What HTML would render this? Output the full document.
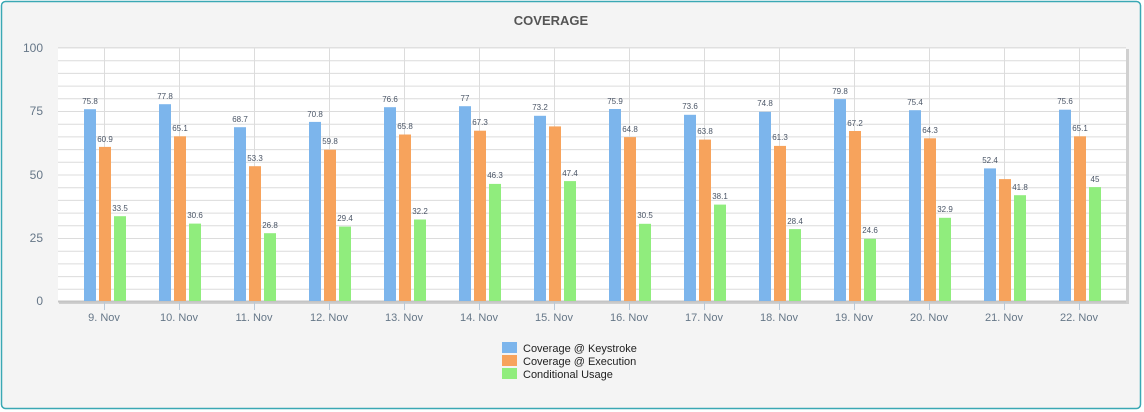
<!DOCTYPE html>
<html><head><meta charset="utf-8"><style>
html,body{margin:0;padding:0;background:#fff;}
svg{display:block;font-family:"Liberation Sans",sans-serif;}
.l{font-size:8px;fill:#4a5566;text-anchor:middle;}
.ax{font-size:12px;fill:#667788;}
.xl{font-size:11px;fill:#667788;text-anchor:middle;}
</style></head><body>
<svg width="1144" height="412" viewBox="0 0 1144 412">
<rect x="1.5" y="1.5" width="1139" height="407" rx="4" fill="#f4f4f4" stroke="#3aa8b4" stroke-width="1.5"/>
<text x="551" y="25" text-anchor="middle" font-size="13" font-weight="bold" fill="#555">COVERAGE</text>
<rect x="59" y="49" width="1070" height="255" fill="#d0d0d0"/>
<rect x="58" y="48" width="1068" height="253" fill="#fff"/>
<g stroke="#dcdcdc" stroke-width="1">
<line x1="58" x2="1126" y1="60.7" y2="60.7"/><line x1="58" x2="1126" y1="73.4" y2="73.4"/><line x1="58" x2="1126" y1="86.1" y2="86.1"/><line x1="58" x2="1126" y1="98.8" y2="98.8"/><line x1="58" x2="1126" y1="111.5" y2="111.5"/><line x1="58" x2="1126" y1="124.2" y2="124.2"/><line x1="58" x2="1126" y1="136.9" y2="136.9"/><line x1="58" x2="1126" y1="149.6" y2="149.6"/><line x1="58" x2="1126" y1="162.3" y2="162.3"/><line x1="58" x2="1126" y1="175" y2="175"/><line x1="58" x2="1126" y1="187.7" y2="187.7"/><line x1="58" x2="1126" y1="200.4" y2="200.4"/><line x1="58" x2="1126" y1="213.1" y2="213.1"/><line x1="58" x2="1126" y1="225.8" y2="225.8"/><line x1="58" x2="1126" y1="238.5" y2="238.5"/><line x1="58" x2="1126" y1="251.2" y2="251.2"/><line x1="58" x2="1126" y1="263.9" y2="263.9"/><line x1="58" x2="1126" y1="276.6" y2="276.6"/><line x1="58" x2="1126" y1="289.3" y2="289.3"/>
<line y1="48" y2="301" x1="104.5" x2="104.5"/><line y1="48" y2="301" x1="179.5" x2="179.5"/><line y1="48" y2="301" x1="254.5" x2="254.5"/><line y1="48" y2="301" x1="329.5" x2="329.5"/><line y1="48" y2="301" x1="404.5" x2="404.5"/><line y1="48" y2="301" x1="479.5" x2="479.5"/><line y1="48" y2="301" x1="554.5" x2="554.5"/><line y1="48" y2="301" x1="629.5" x2="629.5"/><line y1="48" y2="301" x1="704.5" x2="704.5"/><line y1="48" y2="301" x1="779.5" x2="779.5"/><line y1="48" y2="301" x1="854.5" x2="854.5"/><line y1="48" y2="301" x1="929.5" x2="929.5"/><line y1="48" y2="301" x1="1004.5" x2="1004.5"/><line y1="48" y2="301" x1="1079.5" x2="1079.5"/>
</g>
<rect x="58" y="47" width="1068" height="1.5" fill="#e0e0e0"/>
<line x1="58" x2="1126" y1="301.5" y2="301.5" stroke="#c4c4c4" stroke-width="2"/>
<g stroke="#b8c8d8"><line x1="104.5" x2="104.5" y1="302" y2="310"/><line x1="179.5" x2="179.5" y1="302" y2="310"/><line x1="254.5" x2="254.5" y1="302" y2="310"/><line x1="329.5" x2="329.5" y1="302" y2="310"/><line x1="404.5" x2="404.5" y1="302" y2="310"/><line x1="479.5" x2="479.5" y1="302" y2="310"/><line x1="554.5" x2="554.5" y1="302" y2="310"/><line x1="629.5" x2="629.5" y1="302" y2="310"/><line x1="704.5" x2="704.5" y1="302" y2="310"/><line x1="779.5" x2="779.5" y1="302" y2="310"/><line x1="854.5" x2="854.5" y1="302" y2="310"/><line x1="929.5" x2="929.5" y1="302" y2="310"/><line x1="1004.5" x2="1004.5" y1="302" y2="310"/><line x1="1079.5" x2="1079.5" y1="302" y2="310"/></g>
<g class="ax" text-anchor="end">
<text x="43" y="52">100</text><text x="43" y="115">75</text><text x="43" y="179">50</text><text x="43" y="242">25</text><text x="43" y="305">0</text>
</g>
<g class="xl">
<text x="104" y="321">9. Nov</text><text x="179" y="321">10. Nov</text><text x="254" y="321">11. Nov</text><text x="329" y="321">12. Nov</text><text x="404" y="321">13. Nov</text><text x="479" y="321">14. Nov</text><text x="554" y="321">15. Nov</text><text x="629" y="321">16. Nov</text><text x="704" y="321">17. Nov</text><text x="779" y="321">18. Nov</text><text x="854" y="321">19. Nov</text><text x="929" y="321">20. Nov</text><text x="1004" y="321">21. Nov</text><text x="1079" y="321">22. Nov</text>
</g>
<g transform="translate(104,0)"><rect x="-20" y="109.2" width="12" height="191.8" fill="#7cb5ec"/><rect x="-5" y="146.9" width="12" height="154.1" fill="#f7a35c"/><rect x="10" y="216.2" width="12" height="84.8" fill="#90ed7d"/><text class="l" x="-14" y="104">75.8</text><text class="l" x="1" y="142">60.9</text><text class="l" x="16" y="211">33.5</text></g>
<g transform="translate(179,0)"><rect x="-20" y="104.2" width="12" height="196.8" fill="#7cb5ec"/><rect x="-5" y="136.3" width="12" height="164.7" fill="#f7a35c"/><rect x="10" y="223.6" width="12" height="77.4" fill="#90ed7d"/><text class="l" x="-14" y="99">77.8</text><text class="l" x="1" y="131">65.1</text><text class="l" x="16" y="218">30.6</text></g>
<g transform="translate(254,0)"><rect x="-20" y="127.2" width="12" height="173.8" fill="#7cb5ec"/><rect x="-5" y="166.2" width="12" height="134.8" fill="#f7a35c"/><rect x="10" y="233.2" width="12" height="67.8" fill="#90ed7d"/><text class="l" x="-14" y="122">68.7</text><text class="l" x="1" y="161">53.3</text><text class="l" x="16" y="228">26.8</text></g>
<g transform="translate(329,0)"><rect x="-20" y="121.9" width="12" height="179.1" fill="#7cb5ec"/><rect x="-5" y="149.7" width="12" height="151.3" fill="#f7a35c"/><rect x="10" y="226.6" width="12" height="74.4" fill="#90ed7d"/><text class="l" x="-14" y="117">70.8</text><text class="l" x="1" y="144">59.8</text><text class="l" x="16" y="221">29.4</text></g>
<g transform="translate(404,0)"><rect x="-20" y="107.2" width="12" height="193.8" fill="#7cb5ec"/><rect x="-5" y="134.5" width="12" height="166.5" fill="#f7a35c"/><rect x="10" y="219.5" width="12" height="81.5" fill="#90ed7d"/><text class="l" x="-14" y="102">76.6</text><text class="l" x="1" y="129">65.8</text><text class="l" x="16" y="214">32.2</text></g>
<g transform="translate(479,0)"><rect x="-20" y="106.2" width="12" height="194.8" fill="#7cb5ec"/><rect x="-5" y="130.7" width="12" height="170.3" fill="#f7a35c"/><rect x="10" y="183.9" width="12" height="117.1" fill="#90ed7d"/><text class="l" x="-14" y="101">77</text><text class="l" x="1" y="125">67.3</text><text class="l" x="16" y="178">46.3</text></g>
<g transform="translate(554,0)"><rect x="-20" y="115.8" width="12" height="185.2" fill="#7cb5ec"/><rect x="-5" y="126.4" width="12" height="174.6" fill="#f7a35c"/><rect x="10" y="181.1" width="12" height="119.9" fill="#90ed7d"/><text class="l" x="-14" y="110">73.2</text><text class="l" x="16" y="176">47.4</text></g>
<g transform="translate(629,0)"><rect x="-20" y="109" width="12" height="192" fill="#7cb5ec"/><rect x="-5" y="137.1" width="12" height="163.9" fill="#f7a35c"/><rect x="10" y="223.8" width="12" height="77.2" fill="#90ed7d"/><text class="l" x="-14" y="104">75.9</text><text class="l" x="1" y="132">64.8</text><text class="l" x="16" y="218">30.5</text></g>
<g transform="translate(704,0)"><rect x="-20" y="114.8" width="12" height="186.2" fill="#7cb5ec"/><rect x="-5" y="139.6" width="12" height="161.4" fill="#f7a35c"/><rect x="10" y="204.6" width="12" height="96.4" fill="#90ed7d"/><text class="l" x="-14" y="109">73.6</text><text class="l" x="1" y="134">63.8</text><text class="l" x="16" y="199">38.1</text></g>
<g transform="translate(779,0)"><rect x="-20" y="111.8" width="12" height="189.2" fill="#7cb5ec"/><rect x="-5" y="145.9" width="12" height="155.1" fill="#f7a35c"/><rect x="10" y="229.1" width="12" height="71.9" fill="#90ed7d"/><text class="l" x="-14" y="106">74.8</text><text class="l" x="1" y="140">61.3</text><text class="l" x="16" y="224">28.4</text></g>
<g transform="translate(854,0)"><rect x="-20" y="99.1" width="12" height="201.9" fill="#7cb5ec"/><rect x="-5" y="131" width="12" height="170" fill="#f7a35c"/><rect x="10" y="238.8" width="12" height="62.2" fill="#90ed7d"/><text class="l" x="-14" y="94">79.8</text><text class="l" x="1" y="126">67.2</text><text class="l" x="16" y="233">24.6</text></g>
<g transform="translate(929,0)"><rect x="-20" y="110.2" width="12" height="190.8" fill="#7cb5ec"/><rect x="-5" y="138.3" width="12" height="162.7" fill="#f7a35c"/><rect x="10" y="217.8" width="12" height="83.2" fill="#90ed7d"/><text class="l" x="-14" y="105">75.4</text><text class="l" x="1" y="133">64.3</text><text class="l" x="16" y="212">32.9</text></g>
<g transform="translate(1004,0)"><rect x="-20" y="168.4" width="12" height="132.6" fill="#7cb5ec"/><rect x="-5" y="179.1" width="12" height="121.9" fill="#f7a35c"/><rect x="10" y="195.2" width="12" height="105.8" fill="#90ed7d"/><text class="l" x="-14" y="163">52.4</text><text class="l" x="16" y="190">41.8</text></g>
<g transform="translate(1079,0)"><rect x="-20" y="109.7" width="12" height="191.3" fill="#7cb5ec"/><rect x="-5" y="136.3" width="12" height="164.7" fill="#f7a35c"/><rect x="10" y="187.1" width="12" height="113.9" fill="#90ed7d"/><text class="l" x="-14" y="104">75.6</text><text class="l" x="1" y="131">65.1</text><text class="l" x="16" y="182">45</text></g>
<rect x="502" y="342" width="15" height="11" fill="#7cb5ec"/>
<rect x="502" y="355" width="15" height="11" fill="#f7a35c"/>
<rect x="502" y="368" width="15" height="11" fill="#90ed7d"/>
<g font-size="11" fill="#222">
<text x="523" y="352">Coverage @ Keystroke</text>
<text x="523" y="365">Coverage @ Execution</text>
<text x="523" y="378">Conditional Usage</text>
</g>
</svg>
</body></html>
